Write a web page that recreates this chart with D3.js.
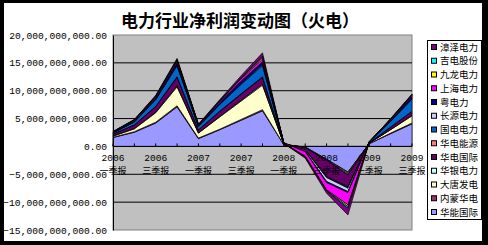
<!DOCTYPE html>
<html>
<head>
<meta charset="utf-8">
<script src="https://cdn.jsdelivr.net/npm/d3@7"></script>
<style>
  body { margin: 0; background: #000; }
  svg { display: block; }
</style>
</head>
<body>
<svg></svg>
<script>
// quarterly (cumulative) reports, values in billions of yuan
var categories = ["2006 一季报", "2006 中报", "2006 三季报", "2006 年报",
  "2007 一季报", "2007 中报", "2007 三季报", "2007 年报",
  "2008 一季报", "2008 中报", "2008 三季报", "2008 年报",
  "2009 一季报", "2009 中报", "2009 三季报"];

var huaneng    = [1.6, 2.55, 4.2, 7.1, 1.4, 3.0, 4.7, 6.4, 0.3, -0.1, -2.3, -4.6, 0.5, 2.3, 4.05];
var neimeng    = [0.05, 0.1, 0.15, 0.2, 0.1, 0.1, 0.15, 0.2, 0.0, -0.05, -0.05, -0.1, 0.0, 0.1, 0.15];
var datang     = [0.2, 0.5, 1.7, 3.4, 0.9, 2.2, 3.3, 4.4, 0.1, -0.05, -0.1, -0.2, 0.1, 0.6, 1.3];
var huayin     = [0.05, 0.1, 0.1, 0.2, 0.05, 0.1, 0.15, 0.2, 0.02, -0.05, -0.05, -0.2, 0.0, 0.05, 0.1];
var hdGuoji    = [0.3, 0.6, 1.0, 1.5, 0.5, 0.9, 1.1, 1.2, -0.05, -0.4, -2.9, -2.1, 0.1, 0.4, 0.6];
var hdNengyuan = [0.02, 0.03, 0.05, 0.1, 0.03, 0.05, 0.05, 0.1, 0.0, -0.05, -0.1, -0.1, -0.02, 0.05, 0.1];
var guodian    = [0.2, 0.5, 1.2, 2.0, 0.6, 1.2, 1.7, 2.0, 0.2, 0.0, -0.1, -0.2, 0.15, 1.0, 2.2];
var changyuan  = [0.02, 0.05, 0.05, 0.1, 0.03, 0.05, 0.1, 0.2, 0.0, -0.2, -0.7, -0.6, 0.0, 0.05, 0.1];
var yuedian    = [0.1, 0.2, 0.3, 0.5, 0.15, 0.3, 0.5, 0.5, 0.1, -0.05, -0.2, -0.2, 0.05, 0.2, 0.4];
var shanghai   = [0.05, 0.1, 0.2, 0.3, 0.1, 0.25, 0.4, 0.5, -0.1, -0.8, -1.3, -2.2, -0.05, 0.1, 0.2];
var jiulong    = [0.02, 0.03, 0.05, 0.1, 0.03, 0.05, 0.1, 0.3, 0.0, -0.1, -0.1, -0.3, 0.0, 0.05, 0.05];
var jidian     = [0.02, 0.03, 0.05, 0.1, 0.03, 0.05, 0.1, 0.2, 0.0, -0.1, -0.1, -0.3, 0.0, 0.05, 0.05];
var zhangze    = [0.05, 0.05, 0.1, 0.2, 0.08, 0.15, 0.35, 0.6, -0.05, -0.15, -0.4, -1.2, -0.05, 0.05, 0.1];

// bottom of the stack first
var seriesNames = ["华能国际", "内蒙华电", "大唐发电", "华银电力", "华电国际", "华电能源",
  "国电电力", "长源电力", "粤电力", "上海电力", "九龙电力", "吉电股份", "漳泽电力"];
var seriesValues = [huaneng, neimeng, datang, huayin, hdGuoji, hdNengyuan,
  guodian, changyuan, yuedian, shanghai, jiulong, jidian, zhangze];
var colors = ["#9999FF", "#993366", "#FFFFCC", "#CCFFFF", "#660066", "#FF8080",
  "#0066CC", "#CCCCFF", "#000080", "#FF00FF", "#FFFF00", "#00FFFF", "#800080"];

var yTicks = [20, 15, 10, 5, 0, -5, -10, -15];

var W = 488, H = 245;
var plot = {left: 113, right: 412, top: 35, bottom: 230};

var svg = d3.select("svg").attr("width", W).attr("height", H);

// white chart area inside the black frame
svg.append("rect")
  .attr("x", 4).attr("y", 3)
  .attr("width", 478).attr("height", 238)
  .attr("fill", "#fff");

var table = categories.map(function(c, i) {
  var row = {cat: c};
  seriesNames.forEach(function(n, k) { row[n] = seriesValues[k][i]; });
  return row;
});

var stack = d3.stack().keys(seriesNames).offset(d3.stackOffsetNone);
var layers = stack(table);

var x = d3.scalePoint().domain(categories).range([plot.left, plot.right]);
var y = d3.scaleLinear().domain([-15, 20]).range([plot.bottom, plot.top]);

// plot background
svg.append("rect")
  .attr("x", plot.left).attr("y", plot.top)
  .attr("width", plot.right - plot.left).attr("height", plot.bottom - plot.top)
  .attr("fill", "#C0C0C0")
  .attr("stroke", "#808080");

// gridlines
svg.append("g")
  .selectAll("line")
  .data(yTicks.filter(function(d) { return d !== 20 && d !== -15; }))
  .enter().append("line")
  .attr("x1", plot.left).attr("x2", plot.right)
  .attr("y1", function(d) { return y(d); })
  .attr("y2", function(d) { return y(d); })
  .attr("stroke", "#000")
  .attr("stroke-width", 1);

var area = d3.area()
  .x(function(d) { return x(d.data.cat); })
  .y0(function(d) { return y(d[0]); })
  .y1(function(d) { return y(d[1]); });

svg.append("g")
  .selectAll("path")
  .data(layers)
  .enter().append("path")
  .attr("d", area)
  .attr("fill", function(d, i) { return colors[i]; })
  .attr("stroke", "#000")
  .attr("stroke-width", 0.7)
  .attr("stroke-linejoin", "round");

// category axis at zero
var xAxis = svg.append("g");
xAxis.append("line")
  .attr("x1", plot.left).attr("x2", plot.right)
  .attr("y1", y(0)).attr("y2", y(0))
  .attr("stroke", "#000");
xAxis.selectAll("line.tick")
  .data(categories)
  .enter().append("line")
  .attr("class", "tick")
  .attr("x1", function(d) { return x(d); })
  .attr("x2", function(d) { return x(d); })
  .attr("y1", y(0)).attr("y2", y(0) - 3)
  .attr("stroke", "#000");

var shown = categories.filter(function(d, i) { return i % 2 === 0; });
xAxis.selectAll("text.year")
  .data(shown)
  .enter().append("text")
  .attr("class", "year")
  .attr("x", function(d) { return x(d); })
  .attr("y", y(0) + 15)
  .attr("text-anchor", "middle")
  .attr("font-family", "'Liberation Mono', 'DejaVu Sans Mono', monospace")
  .attr("font-size", 9.6)
  .text(function(d) { return d.split(" ")[0]; });
xAxis.selectAll("text.quarter")
  .data(shown)
  .enter().append("text")
  .attr("class", "quarter")
  .attr("x", function(d) { return x(d); })
  .attr("y", y(0) + 27.5)
  .attr("text-anchor", "middle")
  .attr("font-family", "'Noto Sans CJK SC', sans-serif")
  .attr("font-size", 9)
  .text(function(d) { return d.split(" ")[1]; });

// value axis
var fmt = d3.format(",.2f");
var yAxis = d3.axisLeft(y)
  .tickValues(yTicks)
  .tickSize(0)
  .tickPadding(6)
  .tickFormat(function(d) { return fmt(d * 1e9); });
svg.append("g")
  .attr("transform", "translate(" + plot.left + ",0)")
  .call(yAxis)
  .call(function(g) {
    g.select(".domain").attr("stroke", "#000");
    g.selectAll("text")
      .attr("font-family", "'Liberation Mono', 'DejaVu Sans Mono', monospace")
      .attr("font-size", 9.6)
      .attr("fill", "#000");
  });

// title
svg.append("text")
  .attr("x", 240).attr("y", 27)
  .attr("text-anchor", "middle")
  .attr("font-family", "'Noto Sans CJK SC', sans-serif")
  .attr("font-weight", "bold")
  .attr("font-size", 17)
  .text("电力行业净利润变动图（火电）");

// legend, reversed like the stack
var legend = svg.append("g");
legend.append("rect")
  .attr("x", 427.5).attr("y", 40.5)
  .attr("width", 54).attr("height", 179)
  .attr("fill", "#fff")
  .attr("stroke", "#000");

var items = legend.selectAll("g.item")
  .data(seriesNames.map(function(n, i) { return {name: n, color: colors[i]}; }).reverse())
  .enter().append("g")
  .attr("class", "item")
  .attr("transform", function(d, i) { return "translate(431," + (47 + i * 13.75) + ")"; });
items.append("rect")
  .attr("x", 0.5).attr("y", -2.5)
  .attr("width", 5).attr("height", 5)
  .attr("fill", function(d) { return d.color; })
  .attr("stroke", "#000");
items.append("text")
  .attr("x", 9).attr("y", 3.5)
  .attr("font-family", "'Noto Sans CJK SC', sans-serif")
  .attr("font-size", 9.5)
  .text(function(d) { return d.name; });
</script>
</body>
</html>
